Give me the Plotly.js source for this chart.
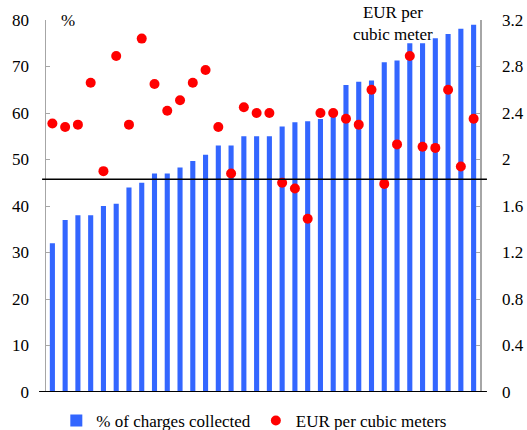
<!DOCTYPE html>
<html>
<head>
<meta charset="utf-8">
<script src="https://cdn.plot.ly/plotly-3.0.1.min.js"></script>
<style>html,body{margin:0;padding:0;background:#fff;}#chart{width:527px;height:430px;}</style>
</head>
<body>
<div id="chart"></div>
<script>
var categories = ["1","2","3","4","5","6","7","8","9","10","11","12","13","14","15","16","17","18","19","20","21","22","23","24","25","26","27","28","29","30","31","32","33","34"];
var chargesCollected = [32,37,38,38,40,40.5,44,45,47,47,48.3,49.7,51,53,53,55,55,55,57.1,58,58.2,58.7,59.9,66,66.7,67,70.9,71.3,75,75,76.1,77,78.1,79];
var eurPerCubicMeter = [2.31,2.28,2.30,2.66,1.90,2.89,2.30,3.04,2.65,2.42,2.51,2.66,2.77,2.28,1.88,2.45,2.40,2.40,1.80,1.75,1.49,2.40,2.40,2.35,2.30,2.60,1.79,2.13,2.89,2.11,2.10,2.60,1.94,2.35];
var referenceLevel = 45.75;
var leftTicks = [0,10,20,30,40,50,60,70,80];
var rightTicks = [0,0.4,0.8,1.2,1.6,2,2.4,2.8,3.2];
var rightTickLabels = ["0","0.4","0.8","1.2","1.6","2","2.4","2.8","3.2"];

var fontFam = "Liberation Serif";
var fs = 17;

var traces = [
  {type:"bar", x:categories, y:chargesCollected, name:"% of charges collected",
   marker:{color:"#3366ff"}, yaxis:"y", hoverinfo:"y"},
  {type:"scatter", mode:"markers", x:categories, y:eurPerCubicMeter, name:"EUR per cubic meters",
   marker:{color:"#ff0000", size:10}, yaxis:"y2", hoverinfo:"y"}
];

var layout = {
  width:527, height:430,
  margin:{l:46, r:47, t:20, b:38, autoexpand:false},
  paper_bgcolor:"#fff", plot_bgcolor:"#fff",
  font:{family:fontFam, size:fs, color:"#000"},
  bargap:0.6,
  showlegend:true,
  legend:{orientation:"h", x:0.48, xanchor:"center", y:-0.078, yanchor:"middle",
          font:{family:fontFam, size:fs, color:"#000"}, itemwidth:30, tracegroupgap:0},
  xaxis:{type:"category", showticklabels:false, showgrid:false, zeroline:false,
         showline:false, ticks:"", range:[-0.5,33.5], fixedrange:true},
  yaxis:{range:[0,80], tickvals:leftTicks, showgrid:false, zeroline:false,
         showline:true, linecolor:"#a6a6a6", linewidth:1.5, ticks:"inside", ticklen:4,
         tickcolor:"#a6a6a6", ticklabelstandoff:12,
         tickfont:{family:fontFam, size:fs, color:"#000"}},
  yaxis2:{range:[0,3.2], tickvals:rightTicks, ticktext:rightTickLabels, overlaying:"y", side:"right",
          showgrid:false, zeroline:false, showline:true, linecolor:"#a6a6a6", linewidth:1.5,
          ticks:"inside", ticklen:4, tickcolor:"#a6a6a6", ticklabelstandoff:17,
          tickfont:{family:fontFam, size:fs, color:"#000"}},
  shapes:[
    {type:"line", xref:"paper", yref:"y", x0:-0.016, x1:1.016, y0:0, y1:0,
     line:{color:"#000", width:2}},
    {type:"line", xref:"paper", yref:"y", x0:-0.009, x1:1.016, y0:referenceLevel, y1:referenceLevel,
     line:{color:"#000", width:1.5}}
  ],
  annotations:[
    {text:"%", xref:"paper", yref:"paper", x:0.05, y:1.0, xanchor:"center", yanchor:"middle",
     showarrow:false, font:{family:fontFam, size:fs, color:"#000"}},
    {text:"EUR per<br>cubic meter", xref:"paper", yref:"paper", x:0.8, y:0.99, xanchor:"center", yanchor:"middle",
     showarrow:false, font:{family:fontFam, size:fs, color:"#000"}}
  ]
};

Plotly.newPlot("chart", traces, layout, {displayModeBar:false, staticPlot:true});
</script>
</body>
</html>
